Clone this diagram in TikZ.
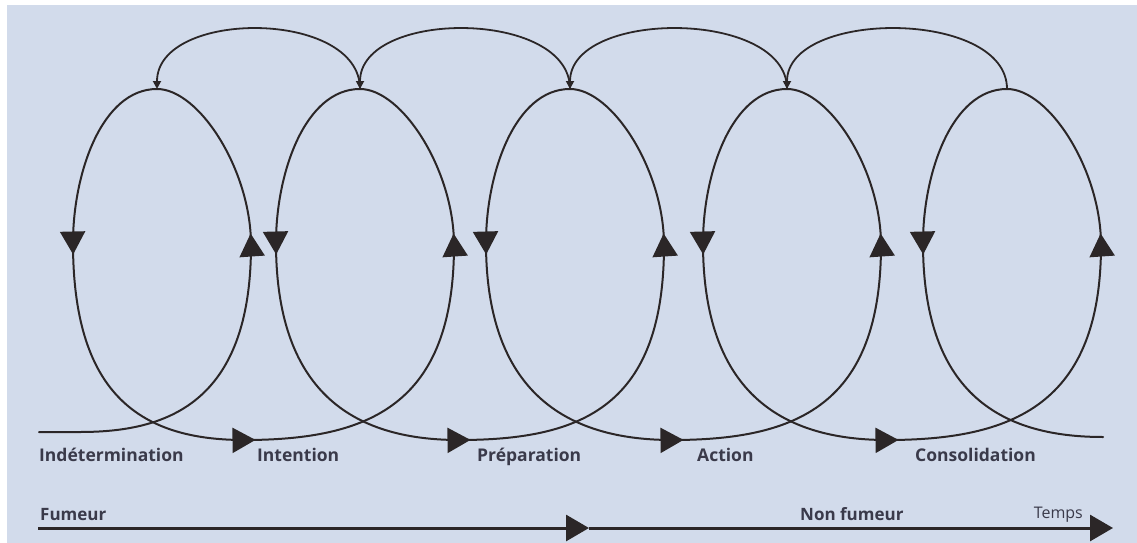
\documentclass[tikz,border=0pt]{standalone}
\usepackage{fontspec}
\setmainfont{Open Sans}
\usetikzlibrary{arrows.meta,decorations.markings}
\definecolor{paper}{RGB}{210,219,235}
\definecolor{ink}{RGB}{43,38,39}
\definecolor{words}{RGB}{58,58,74}
\tikzset{
	loopline/.style={
		line width=2pt,
		draw=ink,
		line cap=round,
	},
	bigtip/.style={
		postaction={decorate},
		decoration={markings,
			mark=at position 11.5pt with {\arrow[ink]{Triangle[length=23pt,width=25pt]}}},
	},
	arcline/.style={
		line width=1.8pt,
		draw=ink,
		-{Triangle[length=8pt,width=8pt]},
	},
	timeline/.style={
		line width=3pt,
		draw=ink,
		-{Triangle[length=23pt,width=26pt]},
	},
	stage/.style={
		anchor=base west,
		inner sep=0pt,
		text=words,
		font=\bfseries\fontsize{17.5}{20}\selectfont,
	},
	side/.style={
		anchor=base west,
		inner sep=0pt,
		text=words,
		font=\bfseries\fontsize{17}{20}\selectfont,
	}
}

\begin{document}
\begin{tikzpicture}[x=1pt,y=-1pt]
	\useasboundingbox (0,0) rectangle (1137,543);
	\fill[paper] (7,5) rectangle (1137,543);
	% points of each loop: top, right side, left side, bottom arrow
	\foreach \cx/\ax [count=\i] in {157/244,360/459,570/672,787/887,1007/1103}{
		\coordinate (t\i) at (\cx,89);
		\coordinate (r\i) at (\cx+94,245);
		\coordinate (l\i) at (\cx-84,243);
		\coordinate (a\i) at (\ax,440);
	}
	\coordinate (s) at (39,432);
	\coordinate (s2) at (80,432);
	\coordinate (e) at (1103,437);
	% the spiral
	\draw[loopline] (s) -- (s2) .. controls +(85,0) and +(0,160) .. (r1);
	\foreach \i/\j in {1/2,2/3,3/4,4/5}
		\draw[loopline,bigtip] (a\i) .. controls +(125,0) and +(0,160) .. (r\j);
	\foreach \i in {1,...,5}
		\draw[loopline,bigtip] (r\i) .. controls +(0,-75) and +(42,0) .. (t\i)
			.. controls +(-55,0) and +(0,-70) .. (l\i);
	\foreach \i in {1,...,4}
		\draw[loopline,bigtip] (l\i) .. controls +(0,147) and +(-108,0) .. (a\i);
	\draw[loopline,bigtip] (l5) .. controls +(0,147) and +(-106,0) .. (e);
	% back arcs over the tops
	\foreach \i/\j in {1/2,2/3,3/4,4/5}
		\draw[arcline] (t\j) .. controls +(0,-80) and +(0,-80) .. (t\i);
	% stages
	\node[stage] (ind) at (39,461) {Indétermination};
	\node[stage] (int) at (257,461) {Intention};
	\node[stage] (prep) at (477,461) {Préparation};
	\node[stage] (act) at (697,461) {Action};
	\node[stage] (cons) at (915,461) {Consolidation};
	% time axis
	\coordinate (f0) at (38,528);
	\coordinate (fm) at (589,528);
	\coordinate (fe) at (1113,528);
	\draw[timeline] (f0) -- (fm);
	\draw[timeline] (fm) -- (fe);
	\node[side] (fum) at (40,520) {Fumeur};
	\node[side] (nonfum) at (800,520) {Non fumeur};
	\node[anchor=base east,inner sep=0pt,text=words,font=\fontsize{16}{18}\selectfont] (temps) at (1083,518) {Temps};
\end{tikzpicture}
\end{document}
